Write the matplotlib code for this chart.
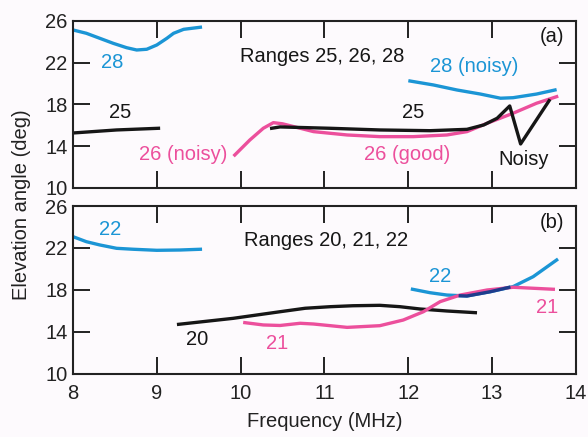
import matplotlib.pyplot as plt

plt.rcParams['font.family'] = ['Liberation Sans', 'DejaVu Sans']

BLUE = '#1b95d5'
PINK = '#ec4f9c'
BLACK = '#161616'
NAVY = '#1f3c8c'

# panel (a): ranges 25, 26, 28
a28_left_f = [8.0, 8.16, 8.32, 8.48, 8.64, 8.76, 8.88, 9.0, 9.12, 9.2, 9.32, 9.52]
a28_left_v = [25.14, 24.82, 24.34, 23.86, 23.44, 23.22, 23.29, 23.7, 24.34, 24.82, 25.2, 25.4]
a25_left_f = [8.0, 8.52, 9.02]
a25_left_v = [15.27, 15.56, 15.72]
a26_f = [9.93, 10.11, 10.27, 10.39, 10.5, 10.87, 11.27, 11.66, 12.06, 12.46, 12.7,
         12.94, 13.25, 13.53, 13.77]
a26_v = [13.16, 14.6, 15.72, 16.26, 16.15, 15.4, 15.08, 14.92, 14.92, 15.08, 15.4,
         16.2, 17.16, 18.12, 18.75]
a25_right_f = [10.37, 10.47, 11.07, 11.66, 12.26, 12.7, 12.9, 13.06, 13.21, 13.34, 13.68]
a25_right_v = [15.72, 15.85, 15.72, 15.56, 15.49, 15.62, 16.04, 16.68, 17.86, 14.22, 18.37]
a28_right_f = [12.02, 12.3, 12.58, 12.86, 13.1, 13.25, 13.53, 13.75]
a28_right_v = [20.25, 19.87, 19.39, 19.0, 18.6, 18.65, 19.0, 19.39]

# panel (b): ranges 20, 21, 22
b22_left_f = [8.0, 8.16, 8.32, 8.52, 8.72, 9.0, 9.28, 9.52]
b22_left_v = [23.08, 22.6, 22.29, 21.97, 21.88, 21.78, 21.81, 21.88]
b20_f = [9.26, 9.91, 10.47, 10.77, 11.07, 11.34, 11.66, 11.9, 12.14, 12.46, 12.8]
b20_v = [14.73, 15.3, 15.93, 16.26, 16.41, 16.5, 16.54, 16.41, 16.19, 16.0, 15.84]
b21_f = [10.05, 10.27, 10.47, 10.71, 10.87, 11.27, 11.66, 11.94, 12.18, 12.38, 12.62,
         12.94, 13.25, 13.73]
b21_v = [14.89, 14.67, 14.62, 14.83, 14.76, 14.44, 14.6, 15.14, 15.93, 16.89, 17.52,
         18.0, 18.26, 18.07]
b22_right_f = [12.05, 12.26, 12.46, 12.7, 12.98, 13.25, 13.49, 13.77]
b22_right_v = [18.07, 17.74, 17.52, 17.43, 17.84, 18.32, 19.27, 20.86]
b_overlap_f = [12.62, 12.7, 12.98, 13.2]
b_overlap_v = [17.45, 17.43, 17.84, 18.25]

xticks = [8, 9, 10, 11, 12, 13, 14]
yticks = [10, 14, 18, 22, 26]

fig = plt.figure(figsize=(5.88, 4.37), dpi=100)
fig.patch.set_facecolor('#fdfafd')

ax1 = fig.add_axes([0.1241, 0.5698, 0.8554, 0.3822])
ax2 = fig.add_axes([0.1241, 0.1442, 0.8554, 0.3844])

for ax in (ax1, ax2):
    ax.set_facecolor('#fdfafd')
    ax.set_xlim(8, 14)
    ax.set_ylim(10, 26)
    ax.set_xticks(xticks)
    ax.set_yticks(yticks)
    ax.tick_params(direction='in', length=12, width=1.4, top=True, right=True,
                   labelsize=14.5, colors='#222222')
    ax.tick_params(axis='x', pad=7)
    ax.tick_params(axis='y', pad=4)
    for s in ax.spines.values():
        s.set_linewidth(1.5)
        s.set_color('#222222')

ax1.tick_params(labelbottom=False)

lw = 2.4
ax1.plot(a28_left_f, a28_left_v, color=BLUE, lw=lw)
ax1.plot(a25_left_f, a25_left_v, color=BLACK, lw=lw)
ax1.plot(a26_f, a26_v, color=PINK, lw=lw)
ax1.plot(a25_right_f, a25_right_v, color=BLACK, lw=lw)
ax1.plot(a28_right_f, a28_right_v, color=BLUE, lw=lw)

ax2.plot(b22_left_f, b22_left_v, color=BLUE, lw=lw)
ax2.plot(b20_f, b20_v, color=BLACK, lw=lw)
ax2.plot(b22_right_f, b22_right_v, color=BLUE, lw=lw)
ax2.plot(b21_f, b21_v, color=PINK, lw=lw)
ax2.plot(b_overlap_f, b_overlap_v, color=NAVY, lw=lw)

fs = 14.5
ax1.text(8.47, 22.07, '28', color=BLUE, fontsize=fs, ha='center', va='center')
ax1.text(8.56, 17.19, '25', color=BLACK, fontsize=fs, ha='center', va='center')
ax1.text(9.31, 13.17, '26 (noisy)', color=PINK, fontsize=fs, ha='center', va='center')
ax1.text(10.97, 22.55, 'Ranges 25, 26, 28', color=BLACK, fontsize=fs, ha='center', va='center')
ax1.text(13.72, 24.56, '(a)', color=BLACK, fontsize=fs, ha='center', va='center')
ax1.text(12.79, 21.6, '28 (noisy)', color=BLUE, fontsize=fs, ha='center', va='center')
ax1.text(12.06, 17.2, '25', color=BLACK, fontsize=fs, ha='center', va='center')
ax1.text(11.99, 13.17, '26 (good)', color=PINK, fontsize=fs, ha='center', va='center')
ax1.text(13.37, 12.7, 'Noisy', color=BLACK, fontsize=fs, ha='center', va='center')

ax2.text(8.44, 23.8, '22', color=BLUE, fontsize=fs, ha='center', va='center')
ax2.text(11.02, 22.76, 'Ranges 20, 21, 22', color=BLACK, fontsize=fs, ha='center', va='center')
ax2.text(13.72, 24.4, '(b)', color=BLACK, fontsize=fs, ha='center', va='center')
ax2.text(12.38, 19.24, '22', color=BLUE, fontsize=fs, ha='center', va='center')
ax2.text(9.48, 13.24, '20', color=BLACK, fontsize=fs, ha='center', va='center')
ax2.text(10.43, 12.95, '21', color=PINK, fontsize=fs, ha='center', va='center')
ax2.text(13.66, 16.3, '21', color=PINK, fontsize=fs, ha='center', va='center')

ax2.set_xlabel('Frequency (MHz)', fontsize=14.5, color='#222222', labelpad=7)
fig.text(0.037, 0.531, 'Elevation angle (deg)', rotation=90, fontsize=14.5,
         color='#222222', ha='center', va='center')

fig.savefig('out.png', dpi=100, facecolor=fig.get_facecolor())
